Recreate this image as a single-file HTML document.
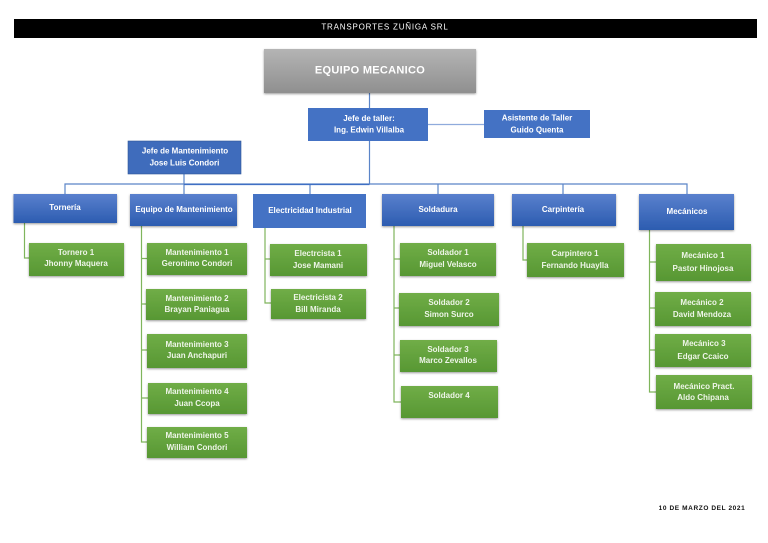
<!DOCTYPE html>
<html lang="es"><head><meta charset="utf-8"><style>
html,body{margin:0;padding:0;background:#fff;width:768px;height:543px;overflow:hidden}
svg{display:block;filter:blur(.35px)}
text{font-family:"Liberation Sans",sans-serif;text-anchor:middle;fill:#fff;font-size:8px;font-weight:bold;letter-spacing:0}
.t text{fill:#eef5e8}
</style></head><body>
<svg width="768" height="543" viewBox="0 0 768 543" xmlns="http://www.w3.org/2000/svg">
<defs>
<linearGradient id="b" x1="0" y1="0" x2="0" y2="1"><stop offset="0" stop-color="#5a80cd"/><stop offset="1" stop-color="#2c5cb0"/></linearGradient>
<linearGradient id="g" x1="0" y1="0" x2="0" y2="1"><stop offset="0" stop-color="#70ad47"/><stop offset="1" stop-color="#579733"/></linearGradient>
<linearGradient id="y" x1="0" y1="0" x2="0" y2="1"><stop offset="0" stop-color="#b4b4b4"/><stop offset="1" stop-color="#8f8f8f"/></linearGradient>
<filter id="s" x="-10%" y="-15%" width="120%" height="135%"><feDropShadow dx="0" dy="1" stdDeviation="1" flood-color="#000" flood-opacity=".4"/></filter>
</defs>
<rect x="14" y="19" width="743" height="19" fill="#000"/>
<text x="385" y="29.500" style="font-size:8px;font-weight:normal;letter-spacing:.8px">TRANSPORTES ZUÑIGA SRL</text>

<g fill="none" stroke="#5b85c8" stroke-width="1.2">
<path d="M369.5 93V108M369.5 141V184M65 194V184H687V194M184 174V194M310 184V194M438 184V194M563 184V194"/>
<path d="M184 184.500H369.5" stroke="#3f6fc4"/>
<path d="M428 124.500H484" stroke="#8fabdc"/>
</g>
<g fill="none" stroke="#7fb55c" stroke-width="1.2">
<path d="M24.500 223V258H29"/>
<path d="M141.500 226V442H147M141.500 258.500H147M141.500 304H146M141.500 350H147M141.500 398H148"/>
<path d="M265 228V303H271M265 259H270"/>
<path d="M394 226V402H401M394 259H400M394 308H399M394 355H400"/>
<path d="M523 226V260H527"/>
<path d="M649.500 230V392H656M649.500 262H656M649.500 308H655M649.500 350H655"/>
</g>

<rect x="264" y="49" width="212" height="44" fill="url(#y)" filter="url(#s)"/>
<text x="370" y="73.500" style="font-size:11px;letter-spacing:.3px">EQUIPO MECANICO</text>

<rect x="308" y="108" width="120" height="33" fill="#4472c4"/>
<rect x="484" y="110" width="106" height="28" fill="#4472c4"/>
<rect x="128" y="141" width="113" height="33" fill="#3f6cbc" stroke="#2f5597" stroke-width=".6"/>
<rect x="253" y="194" width="113" height="34" fill="#4472c4"/>
<g fill="url(#b)" filter="url(#s)">
<rect x="13.500" y="194" width="103.500" height="29"/>
<rect x="130" y="194" width="107" height="32"/>
<rect x="382" y="194" width="112" height="32"/>
<rect x="512" y="194" width="104" height="32"/>
<rect x="639" y="194" width="95" height="36"/>
</g>
<g fill="url(#g)" filter="url(#s)">
<rect x="29" y="243" width="95" height="33"/>
<rect x="147" y="243" width="100" height="32"/>
<rect x="146" y="289" width="101" height="31"/>
<rect x="147" y="334" width="100" height="34"/>
<rect x="148" y="383" width="99" height="31"/>
<rect x="147" y="427" width="100" height="31"/>
<rect x="270" y="244" width="97" height="32"/>
<rect x="271" y="289" width="95" height="30"/>
<rect x="400" y="243" width="96" height="33"/>
<rect x="399" y="293" width="100" height="33"/>
<rect x="400" y="340" width="97" height="32"/>
<rect x="401" y="386" width="97" height="32"/>
<rect x="527" y="243" width="97" height="34"/>
<rect x="656" y="244" width="95" height="37"/>
<rect x="655" y="292" width="96" height="34"/>
<rect x="655" y="334" width="96" height="33"/>
<rect x="656" y="375" width="96" height="34"/>
</g>

<g>
<text x="369" y="121">Jefe de taller:</text>
<text x="369" y="132.500">Ing. Edwin Villalba</text>
<text x="537" y="120.500">Asistente de Taller</text>
<text x="537" y="132.500">Guido Quenta</text>
<text x="185" y="153.500">Jefe de Mantenimiento</text>
<text x="184.500" y="165.500">Jose Luis Condori</text>
<text x="65" y="210">Tornería</text>
<text x="184" y="212">Equipo de Mantenimiento</text>
<text x="310" y="213">Electricidad Industrial</text>
<text x="438" y="212">Soldadura</text>
<text x="563" y="212">Carpintería</text>
<text x="687" y="214">Mecánicos</text>
</g>
<g class="t">
<text x="76" y="255">Tornero 1</text><text x="76" y="266">Jhonny Maquera</text>
<text x="197" y="255">Mantenimiento 1</text><text x="197" y="266">Geronimo Condori</text>
<text x="197" y="301">Mantenimiento 2</text><text x="197" y="312">Brayan Paniagua</text>
<text x="197" y="347">Mantenimiento 3</text><text x="197" y="358">Juan Anchapuri</text>
<text x="197" y="394">Mantenimiento 4</text><text x="197" y="406">Juan Ccopa</text>
<text x="197" y="438">Mantenimiento 5</text><text x="197" y="450">William Condori</text>
<text x="318" y="256">Electrcista 1</text><text x="318" y="268">Jose Mamani</text>
<text x="318" y="300">Electricista 2</text><text x="318" y="312">Bill Miranda</text>
<text x="448" y="255">Soldador 1</text><text x="448" y="267">Miguel Velasco</text>
<text x="449" y="305">Soldador 2</text><text x="449" y="317">Simon Surco</text>
<text x="448" y="352">Soldador 3</text><text x="448" y="363">Marco Zevallos</text>
<text x="449" y="398">Soldador 4</text>
<text x="575" y="256">Carpintero 1</text><text x="575" y="268">Fernando Huaylla</text>
<text x="703" y="258">Mecánico 1</text><text x="703" y="271">Pastor Hinojosa</text>
<text x="702" y="305">Mecánico 2</text><text x="702" y="317">David Mendoza</text>
<text x="704" y="346">Mecánico 3</text><text x="703" y="359">Edgar Ccaico</text>
<text x="704" y="389">Mecánico Pract.</text><text x="703" y="400">Aldo Chipana</text>
</g>
<text x="702" y="510" style="fill:#111;font-size:6.5px;letter-spacing:.6px">10 DE MARZO DEL 2021</text>
</svg>
</body></html>
